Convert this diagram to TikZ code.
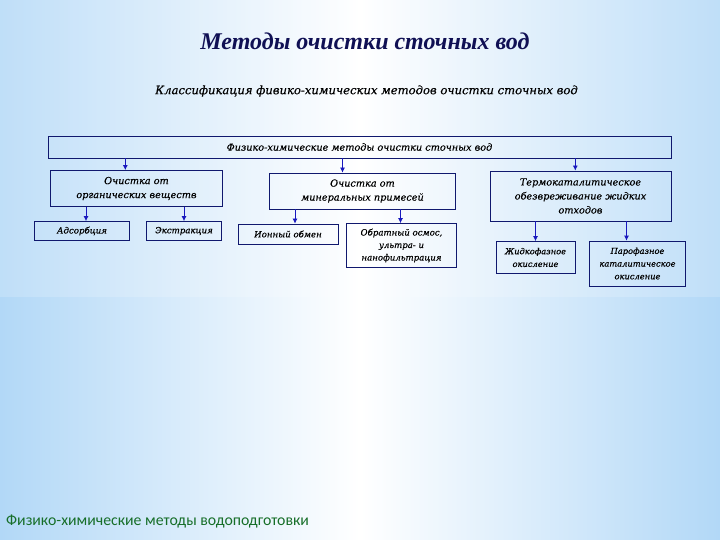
\documentclass[tikz,border=0pt]{standalone}
\usepackage{fontspec}
\setmainfont{Liberation Serif}
\newfontfamily\titlefont{Liberation Serif}
\newfontfamily\boxfont[FakeBold=0.35]{DejaVu Serif}
\newfontfamily\footfont{Carlito}
\usetikzlibrary{arrows.meta,shadings}
\definecolor{bgblue}{RGB}{178,216,247}
\definecolor{navy}{RGB}{16,16,84}
\definecolor{boxblue}{RGB}{16,24,110}
\definecolor{arrowblue}{RGB}{24,24,190}
\definecolor{footgreen}{RGB}{22,110,40}
\tikzset{
  box/.style={draw=boxblue, line width=0.8pt, align=center, inner sep=1pt,
    font=\boxfont\itshape\fontsize{9.7}{14}\selectfont},
  smallbox/.style={box, font=\boxfont\itshape\fontsize{8.6}{12.5}\selectfont},
  tinybox/.style={box, font=\boxfont\itshape\fontsize{8.3}{12.7}\selectfont},
  arr/.style={-{Latex[length=5pt,width=5pt]}, draw=arrowblue, line width=0.8pt}
}
\begin{document}
\begin{tikzpicture}[x=1pt,y=-1pt]
\useasboundingbox (0,0) rectangle (720,540);
\shade[left color=bgblue, right color=bgblue, middle color=white] (0,0) rectangle (720,540);
\fill[white, opacity=0.18] (0,0) rectangle (720,297);

\node[font=\titlefont\bfseries\itshape\fontsize{24}{27}\selectfont, text=navy] (title) at (365,41) {Методы очистки сточных вод};
\node[font=\boxfont\itshape\fontsize{11.6}{14}\selectfont, text=black] (sub) at (366.5,91) {Классификация фивико-химических методов очистки сточных вод};

\node[box, minimum width=623, minimum height=22] (main) at (359.5,147) {Физико-химические методы очистки сточных вод};

\node[box, minimum width=172, minimum height=36] (b1) at (136.5,188.5) {Очистка от\\органических веществ};
\node[box, minimum width=186, minimum height=36] (b2) at (362.5,191) {Очистка от\\минеральных примесей};
\node[box, minimum width=181, minimum height=50] (b3) at (580.5,196) {Термокаталитическое\\обезвреживание жидких\\отходов};

\node[smallbox, minimum width=95, minimum height=19] (s1) at (82,231) {Адсорбция};
\node[smallbox, minimum width=75, minimum height=19] (s2) at (184,231) {Экстракция};
\node[smallbox, minimum width=100, minimum height=20] (s3) at (288,234) {Ионный обмен};
\node[smallbox, minimum width=110, minimum height=44] (s4) at (401.5,245.5) {Обратный осмос,\\ультра- и\\нанофильтрация};
\node[tinybox, minimum width=79, minimum height=32] (s5) at (535.5,257.5) {Жидкофазное\\окисление};
\node[tinybox, minimum width=96, minimum height=45] (s6) at (637.5,263.5) {Парофазное\\каталитическое\\окисление};

\draw[arr] (main.south -| 125.3,0) -- (b1.north -| 125.3,0);
\draw[arr] (main.south -| 342.5,0) -- (b2.north -| 342.5,0);
\draw[arr] (main.south -| 575.3,0) -- (b3.north -| 575.3,0);
\draw[arr] (b1.south -| 86,0) -- (s1.north -| 86,0);
\draw[arr] (b1.south -| 184,0) -- (s2.north -| 184,0);
\draw[arr] (b2.south -| 295,0) -- (s3.north -| 295,0);
\draw[arr] (b2.south -| 400.5,0) -- (s4.north -| 400.5,0);
\draw[arr] (b3.south -| 535.5,0) -- (s5.north -| 535.5,0);
\draw[arr] (b3.south -| 626.5,0) -- (s6.north -| 626.5,0);

\node[anchor=west, font=\footfont\fontsize{15.8}{18}\selectfont, text=footgreen, inner sep=0pt] (foot) at (6,521) {Физико-химические методы водоподготовки};
\end{tikzpicture}
\end{document}
